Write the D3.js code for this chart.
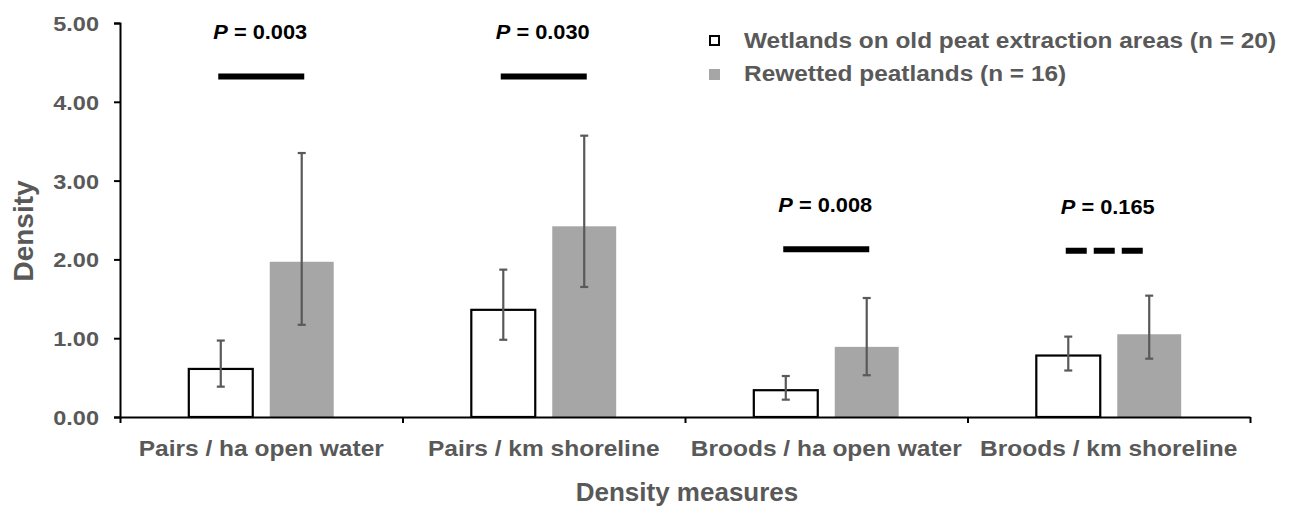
<!DOCTYPE html>
<html><head><meta charset="utf-8">
<script src="https://cdn.jsdelivr.net/npm/d3@7"></script>
<style>body{margin:0;background:#fff}svg{display:block}text{font-family:"Liberation Sans",Arial,sans-serif;font-weight:bold}</style>
</head><body><svg id="c" width="1293" height="508"></svg>
<script>
const categories = ["Pairs / ha open water","Pairs / km shoreline","Broods / ha open water","Broods / km shoreline"];
const seriesNames = ["Wetlands on old peat extraction areas (n = 20)","Rewetted peatlands (n = 16)"];
const wetlandsMean = [0.61,1.36,0.34,0.78];
const wetlandsLow  = [0.385,0.98,0.22,0.59];
const wetlandsHigh = [0.97,1.87,0.52,1.02];
const rewettedMean = [1.97,2.42,0.89,1.05];
const rewettedLow  = [1.17,1.65,0.53,0.74];
const rewettedHigh = [3.35,3.57,1.51,1.54];
const pLabels = ["0.003","0.030","0.008","0.165"];
const pLineY = [4.32,4.32,2.13,2.11];
const pTextY = [4.8,4.8,2.6,2.58];
const significant = [true,true,true,false];
const yTicks = [0,1,2,3,4,5];

const svg = d3.select("#c");
const m = {l:120, r:1250, t:23, b:417};
const x = d3.scaleBand().domain(categories).range([m.l,m.r]);
const xs = d3.scaleBand().domain([0,1]).range([0,x.bandwidth()]).paddingInner(0.21).paddingOuter(0.85);
const y = d3.scaleLinear().domain([0,5]).range([m.b,m.t]);
const dark = "#595959", barGray = "#a6a6a6";

function sText(sel, px, py, sx, anchor){
  return sel.append("text").attr("transform",`translate(${px},${py}) scale(${sx},1)`).attr("text-anchor",anchor||"start");
}

const data = categories.map((c,i)=>({c,i,vals:[
  {s:0,v:wetlandsMean[i],lo:wetlandsLow[i],hi:wetlandsHigh[i]},
  {s:1,v:rewettedMean[i],lo:rewettedLow[i],hi:rewettedHigh[i]}]}));

const g = svg.append("g");
data.forEach(d=>{
  d.vals.forEach(b=>{
    const bx = x(d.c)+xs(b.s);
    g.append("rect").attr("x",bx).attr("y",y(b.v)).attr("width",xs.bandwidth()).attr("height",y(0)-y(b.v))
      .attr("fill",b.s===0?"#fff":barGray).attr("stroke",b.s===0?"#000":"none").attr("stroke-width",2.2);
  });
});
data.forEach(d=>{
  d.vals.forEach(b=>{
    const cx = x(d.c)+xs(b.s)+xs.bandwidth()/2;
    const eg = g.append("g").attr("stroke",dark).attr("stroke-width",2.2);
    eg.append("line").attr("x1",cx).attr("x2",cx).attr("y1",y(b.lo)).attr("y2",y(b.hi));
    eg.append("line").attr("x1",cx-4).attr("x2",cx+4).attr("y1",y(b.lo)).attr("y2",y(b.lo));
    eg.append("line").attr("x1",cx-4).attr("x2",cx+4).attr("y1",y(b.hi)).attr("y2",y(b.hi));
  });
});

// y axis
const ya = svg.append("g").attr("transform",`translate(${m.l},0)`)
  .call(d3.axisLeft(y).tickValues(yTicks).tickFormat(d3.format(".2f")).tickSize(6).tickPadding(14));
ya.select(".domain").attr("stroke","#000").attr("stroke-width",2);
ya.selectAll(".tick line").attr("stroke","#000").attr("stroke-width",2);
ya.selectAll(".tick text").attr("fill",dark).attr("font-size",21).attr("font-family","Liberation Sans, Arial").attr("font-weight","bold")
  .attr("x",0).attr("dy","0.36em").attr("transform","translate(-21,0) scale(1.12,1)");

// x axis
const xb = d3.scaleLinear().domain([0,categories.length]).range([m.l,m.r]);
const xa = svg.append("g").attr("transform",`translate(0,${m.b})`)
  .call(d3.axisBottom(xb).tickValues(d3.range(categories.length+1)).tickFormat("").tickSize(6).tickSizeOuter(0));
xa.select(".domain").attr("stroke","#000").attr("stroke-width",2);
xa.selectAll(".tick line").attr("stroke","#000").attr("stroke-width",2);
categories.forEach(c=>{
  sText(svg, x(c)+x.bandwidth()/2, 455.5, 1.09, "middle").attr("fill",dark).attr("font-size",22.5).text(c);
});

// axis titles
svg.append("text").attr("x",(m.l+m.r)/2+2).attr("y",501).attr("text-anchor","middle")
  .attr("fill",dark).attr("font-size",26).text("Density measures");
svg.append("text").attr("transform",`translate(33,231) rotate(-90)`).attr("text-anchor","middle")
  .attr("fill",dark).attr("font-size",28).text("Density");

// significance
categories.forEach((c,i)=>{
  const cx = x(c)+x.bandwidth()/2;
  const t = sText(svg, cx-1, y(pTextY[i]), 1.09, "middle").attr("fill","#000").attr("font-size",20);
  t.append("tspan").attr("font-style","italic").text("P");
  t.append("tspan").text(" = "+pLabels[i]);
  svg.append("line").attr("x1",cx-43).attr("x2",cx+(significant[i]?43:41)).attr("y1",y(pLineY[i])).attr("y2",y(pLineY[i]))
    .attr("stroke","#000").attr("stroke-width",6)
    .attr("stroke-dasharray",significant[i]?null:"21,7");
});

// legend
const lg = svg.append("g");
seriesNames.forEach((s,i)=>{
  const yy = 41 + i*33;
  lg.append("rect").attr("x",i===0?710:709).attr("y",yy-5).attr("width",i===0?9:11).attr("height",i===0?9:11)
    .attr("fill",i===0?"#fff":barGray).attr("stroke",i===0?"#000":"none").attr("stroke-width",2);
  sText(lg, 744, yy+7, 1.11, "start").attr("fill",dark).attr("font-size",22).text(s);
});
</script></body></html>
